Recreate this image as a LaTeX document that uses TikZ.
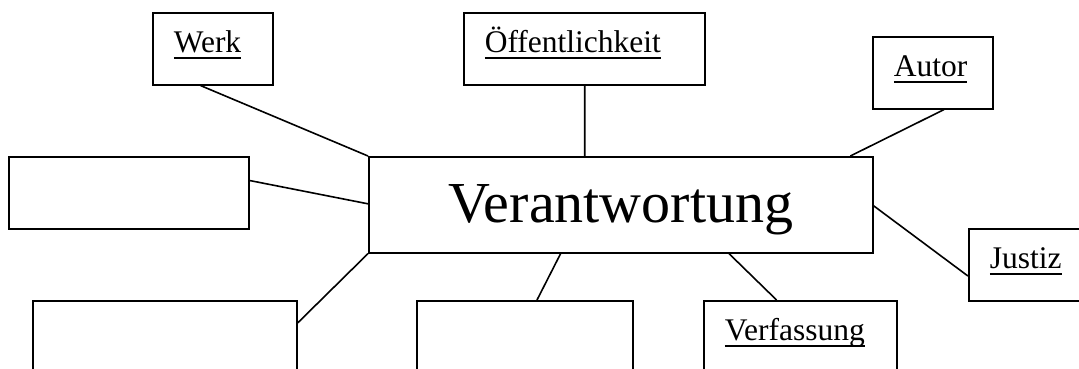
\documentclass[tikz,border=0pt]{standalone}
\usepackage{fontspec}
\setmainfont{Liberation Serif}
\usetikzlibrary{calc}
\newcommand\ulx[1]{\setbox0\hbox{#1}\rlap{\rule[-6pt]{\wd0}{2pt}}\box0}
\tikzset{
  box/.style={draw, rectangle, line width=1.6pt, inner sep=0pt, anchor=north west},
  lab/.style={box, inner xsep=21pt, inner ysep=0pt, align=left, text height=40pt, text depth=32pt,
              font=\fontsize{31.5}{36}\selectfont},
  link/.style={line width=1.6pt},
}
\begin{document}
\begin{tikzpicture}[x=1pt, y=-1pt]
\useasboundingbox (0,0) rectangle (1079,369);
\clip (0,0) rectangle (1079,369);
% central node
\node[box, minimum width=504pt, text height=66pt, text depth=30pt, font=\fontsize{58}{66}\selectfont]
  (center) at (368,156) {Verantwortung};
% labelled boxes
\node[lab, text width=78pt] (werk) at (152,12) {\ulx{Werk}};
\node[lab, text width=199pt] (oeff) at (463,12) {\ulx{Öffentlichkeit}};
\node[lab, text width=78pt] (autor) at (872,36) {\ulx{Autor}};
\node[lab, text width=80pt] (justiz) at (968,228) {\ulx{Justiz}};
\node[lab, text width=151pt, text depth=60pt] (verf) at (703,300) {\ulx{Verfassung}};
% empty boxes
\node[box, minimum width=240pt, minimum height=72pt] (left) at (8,156) {};
\node[box, minimum width=264pt, minimum height=100pt] (bleft) at (32,300) {};
\node[box, minimum width=216pt, minimum height=100pt] (bmid) at (416,300) {};
% connectors
\draw[link] ($(werk.south west)!0.4!(werk.south east)$) -- (center.north west);
\draw[link] ($(oeff.south west)!0.502!(oeff.south east)$) -- ($(center.north west)!0.4286!(center.north east)$);
\draw[link] ($(autor.south west)!0.592!(autor.south east)$) -- ($(center.north west)!0.954!(center.north east)$);
\draw[link] ($(center.north east)!0.51!(center.south east)$) -- ($(justiz.north west)!0.653!(justiz.south west)$);
\draw[link] ($(center.south west)!0.714!(center.south east)$) -- ($(verf.north west)!0.378!(verf.north east)$);
\draw[link] ($(center.south west)!0.381!(center.south east)$) -- ($(bmid.north west)!0.556!(bmid.north east)$);
\draw[link] (center.south west) -- ($(bleft.north east)+(0,23)$);
\draw[link] ($(left.north east)!0.333!(left.south east)$) -- ($(center.north west)!0.49!(center.south west)$);
\end{tikzpicture}
\end{document}
